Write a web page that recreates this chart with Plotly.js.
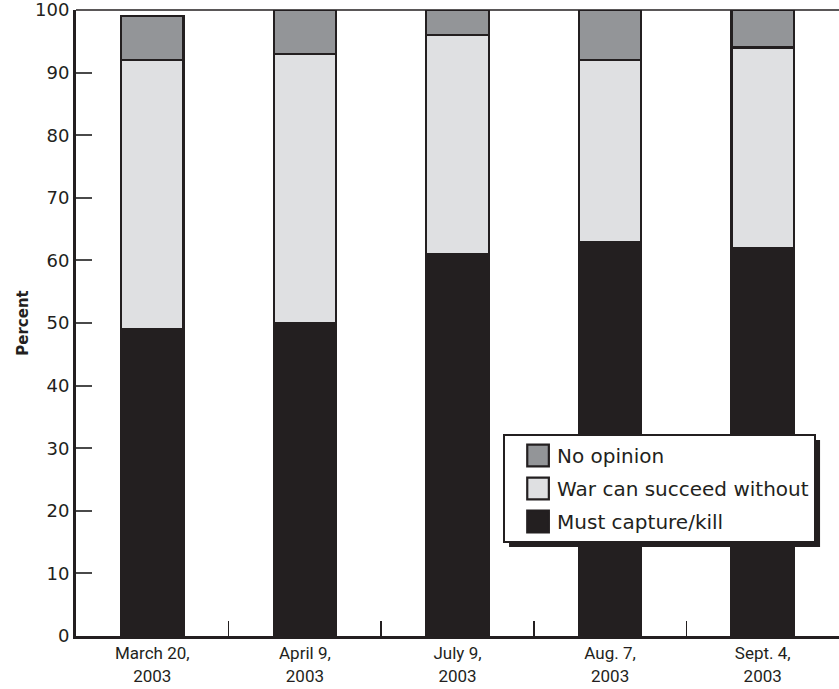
<!DOCTYPE html>
<html>
<head>
<meta charset="utf-8">
<script src="https://cdn.plot.ly/plotly-3.0.1.min.js"></script>
<style>
  html, body { margin: 0; padding: 0; background: #ffffff; }
  #chart { width: 839px; height: 689px; }
</style>
</head>
<body>
<div id="chart"></div>
<script>
// ---- Data (percent) ----
const categories = ["March 20,<br>2003", "April 9,<br>2003", "July 9,<br>2003", "Aug. 7,<br>2003", "Sept. 4,<br>2003"];
const mustCapture = [49, 50, 61, 63, 62];
const warCanSucceed = [43, 43, 35, 29, 32];
const noOpinion = [7, 7, 4, 8, 6];
const seriesNames = ["Must capture/kill", "War can succeed without", "No opinion"];
const yTicks = [0, 10, 20, 30, 40, 50, 60, 70, 80, 90, 100];

const ink = "#231f20";
const colors = ["#231f20", "#dfe0e2", "#939598"];
const seriesValues = [mustCapture, warCanSucceed, noOpinion];

const traces = seriesValues.map((vals, i) => ({
  type: "bar",
  x: categories,
  y: vals,
  name: seriesNames[i],
  legendgroup: "g" + (seriesValues.length - i),
  legendrank: 1000 - i,
  marker: { color: colors[i], line: { color: ink, width: 2.2 } },
  hoverinfo: "skip"
}));

const mainFont = "DejaVu Sans, sans-serif";

const layout = {
  width: 839,
  height: 689,
  margin: { l: 76, r: 0, t: 10, b: 53 },
  paper_bgcolor: "#ffffff",
  plot_bgcolor: "#ffffff",
  barmode: "stack",
  bargap: 0.59,
  font: { family: mainFont, color: ink, size: 18 },
  showlegend: true,
  legend: {
    x: 0.5597, y: 0.3227, xanchor: "left", yanchor: "top",
    bgcolor: "#ffffff", bordercolor: ink, borderwidth: 2,
    traceorder: "grouped",
    tracegroupgap: 4,
    itemwidth: 42,
    font: { family: mainFont, size: 20, color: ink }
  },
  xaxis: {
    type: "category",
    range: [-0.5, 4.5],
    showline: true, linecolor: ink, linewidth: 3,
    ticks: "inside", tickson: "boundaries", ticklen: 15, tickwidth: 1.5, tickcolor: ink,
    tickfont: { family: "Roboto, sans-serif", size: 17, color: ink },
    showgrid: false, zeroline: false, fixedrange: true
  },
  yaxis: {
    range: [0, 100],
    tickvals: yTicks,
    ticktext: yTicks.map(String),
    ticklabeloverflow: "allow",
    showline: true, linecolor: ink, linewidth: 3,
    ticks: "inside", ticklen: 16, tickwidth: 2, tickcolor: "#4a4a4a",
    tickfont: { family: mainFont, size: 18, color: ink },
    showgrid: false, zeroline: false, fixedrange: true,
    title: { text: "<b>Percent</b>", standoff: 3, font: { family: mainFont, size: 15, color: ink } }
  },
  shapes: [
    { type: "line", xref: "paper", yref: "paper", x0: 0, x1: 1, y0: 1, y1: 1, line: { color: ink, width: 1.5 } }
  ]
};

function bigSwatches(gd) {
  gd.querySelectorAll(".legend .legendpoints path").forEach(p => {
    const t = p.getAttribute("data-orig-transform") ?? (p.getAttribute("transform") || "");
    p.setAttribute("data-orig-transform", t);
    p.setAttribute("transform", t + " translate(7,0) scale(1.8)");
    p.style.vectorEffect = "non-scaling-stroke";
  });
}

Plotly.newPlot("chart", traces, layout, { displayModeBar: false, staticPlot: true }).then(gd => {
  const bg = gd.querySelector(".legend .bg");
  if (!bg) { bigSwatches(gd); return; }
  const lb = bg.getBoundingClientRect();
  const gb = gd.getBoundingClientRect();
  const fl = gd._fullLayout;
  const px = v => (v - gb.left - fl._size.l) / fl._size.w;
  const py = v => 1 - (v - gb.top - fl._size.t) / fl._size.h;
  const off = 5;
  const shapes = layout.shapes.concat([{
    type: "rect", xref: "paper", yref: "paper", layer: "above",
    x0: px(lb.left + off), x1: px(lb.right + off),
    y0: py(lb.bottom + off), y1: py(lb.top + off),
    fillcolor: ink, line: { width: 0 }
  }]);
  Plotly.relayout(gd, { shapes: shapes }).then(() => bigSwatches(gd));
});
</script>
</body>
</html>
